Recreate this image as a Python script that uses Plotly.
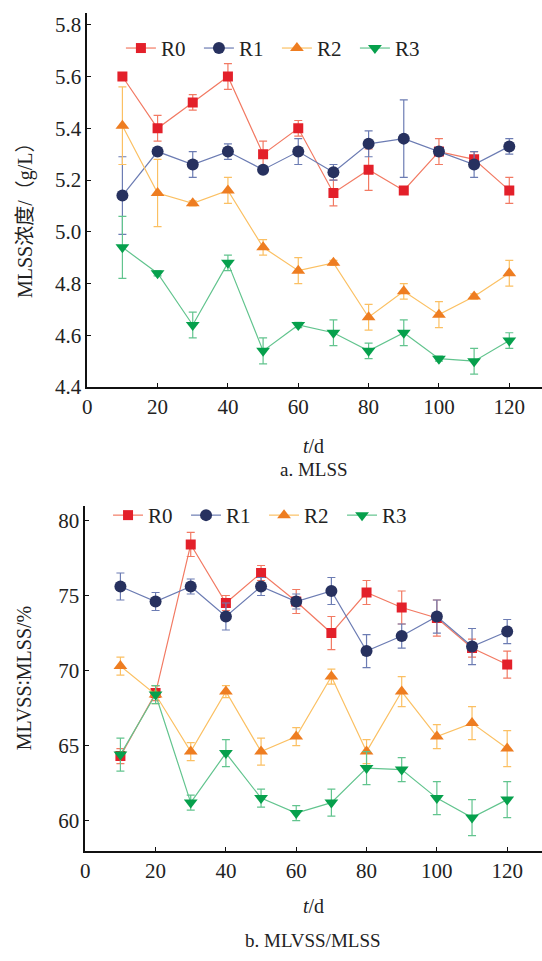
import plotly.graph_objects as go

days = [10, 20, 30, 40, 50, 60, 70, 80, 90, 100, 110, 120]
series = ["R0", "R1", "R2", "R3"]

# Panel a: MLSS concentration (g/L)
mlss_r0 = [5.60, 5.40, 5.50, 5.60, 5.30, 5.40, 5.15, 5.24, 5.16, 5.31, 5.28, 5.16]
mlss_r0_err = [0.01, 0.05, 0.03, 0.05, 0.05, 0.03, 0.05, 0.08, 0.01, 0.05, 0.03, 0.05]
mlss_r1 = [5.14, 5.31, 5.26, 5.31, 5.24, 5.31, 5.23, 5.34, 5.36, 5.31, 5.26, 5.33]
mlss_r1_err = [0.15, 0.01, 0.05, 0.03, 0.01, 0.05, 0.03, 0.05, 0.15, 0.01, 0.05, 0.03]
mlss_r2 = [5.41, 5.15, 5.11, 5.16, 4.94, 4.85, 4.88, 4.67, 4.77, 4.68, 4.75, 4.84]
mlss_r2_err = [0.15, 0.13, 0.01, 0.05, 0.03, 0.05, 0.01, 0.05, 0.03, 0.05, 0.01, 0.05]
mlss_r3 = [4.94, 4.84, 4.64, 4.88, 4.54, 4.64, 4.61, 4.54, 4.61, 4.51, 4.50, 4.58]
mlss_r3_err = [0.12, 0.01, 0.05, 0.03, 0.05, 0.01, 0.05, 0.03, 0.05, 0.01, 0.05, 0.03]

# Panel b: MLVSS/MLSS (%)
ratio_r0 = [64.3, 68.5, 78.4, 74.5, 76.5, 74.6, 72.5, 75.2, 74.2, 73.5, 71.5, 70.4]
ratio_r0_err = [0.5, 0.5, 0.8, 0.5, 0.5, 0.8, 1.1, 0.8, 1.1, 1.2, 0.6, 0.9]
ratio_r1 = [75.6, 74.6, 75.6, 73.6, 75.6, 74.6, 75.3, 71.3, 72.3, 73.6, 71.6, 72.6]
ratio_r1_err = [0.9, 0.6, 0.5, 0.9, 0.6, 0.5, 0.9, 1.1, 0.8, 1.1, 1.2, 0.8]
ratio_r2 = [70.3, 68.4, 64.6, 68.6, 64.6, 65.6, 69.6, 64.6, 68.6, 65.6, 66.5, 64.8]
ratio_r2_err = [0.6, 0.6, 0.6, 0.4, 0.9, 0.6, 0.5, 0.8, 1.0, 0.8, 1.1, 1.2]
ratio_r3 = [64.4, 68.4, 61.2, 64.5, 61.5, 60.5, 61.2, 63.5, 63.4, 61.5, 60.2, 61.4]
ratio_r3_err = [1.1, 0.6, 0.5, 0.9, 0.6, 0.5, 0.9, 1.1, 0.8, 1.1, 1.2, 1.2]

x_ticks = [0, 20, 40, 60, 80, 100, 120]
ya_ticks = [4.4, 4.6, 4.8, 5.0, 5.2, 5.4, 5.6, 5.8]
yb_ticks = [60, 65, 70, 75, 80]

marker_colors = ["#e3202a", "#27315f", "#ee7d21", "#06a04c"]
line_colors = ["#f27a63", "#6c7cb3", "#fbc063", "#62c48e"]
symbols = ["square", "circle", "triangle-up", "triangle-down"]
msizes = [10, 12, 12, 12]

FONT = "Liberation Serif, DejaVu Sans, Noto Sans CJK SC"
W, H = 542, 961

fig = go.Figure()

top_vals = [mlss_r0, mlss_r1, mlss_r2, mlss_r3]
top_errs = [mlss_r0_err, mlss_r1_err, mlss_r2_err, mlss_r3_err]
bot_vals = [ratio_r0, ratio_r1, ratio_r2, ratio_r3]
bot_errs = [ratio_r0_err, ratio_r1_err, ratio_r2_err, ratio_r3_err]

for i, name in enumerate(series):
    fig.add_trace(go.Scatter(
        x=days, y=top_vals[i], name=name, mode="lines+markers",
        line=dict(color=line_colors[i], width=1.2),
        marker=dict(symbol=symbols[i], size=msizes[i], color=marker_colors[i], line=dict(width=0)),
        error_y=dict(type="data", array=top_errs[i], visible=True, color=line_colors[i], thickness=1.2, width=4),
        xaxis="x", yaxis="y", legend="legend",
    ))
for i, name in enumerate(series):
    fig.add_trace(go.Scatter(
        x=days, y=bot_vals[i], name=name, mode="lines+markers",
        line=dict(color=line_colors[i], width=1.2),
        marker=dict(symbol=symbols[i], size=msizes[i], color=marker_colors[i], line=dict(width=0)),
        error_y=dict(type="data", array=bot_errs[i], visible=True, color=line_colors[i], thickness=1.2, width=4),
        xaxis="x2", yaxis="y2", legend="legend2",
    ))

axis_common = dict(
    showline=True, linecolor="#111", linewidth=1.5, mirror=False,
    ticks="inside", ticklen=4, tickwidth=1.2, tickcolor="#111",
    showgrid=False, zeroline=False,
    tickfont=dict(family=FONT, size=21, color="#222"),
)

def py(px):
    return 1 - px / H

legend_font = dict(family=FONT, size=21, color="#222")

fig.update_layout(
    width=W, height=H,
    margin=dict(l=0, r=0, t=0, b=0),
    paper_bgcolor="white", plot_bgcolor="white",
    font=dict(family=FONT, size=20, color="#222"),
    xaxis=dict(domain=[83 / W, 1.0], range=[0, 129.3], tickvals=x_ticks, anchor="y", **axis_common),
    yaxis=dict(domain=[py(392), py(13)], range=[4.4, 5.846], tickvals=ya_ticks,
               tickformat=".1f", anchor="x", **axis_common),
    xaxis2=dict(domain=[81 / W, 1.0], range=[0, 129.9], tickvals=x_ticks, anchor="y2", **axis_common),
    yaxis2=dict(domain=[py(862), py(512)], range=[57.96, 80.99], tickvals=yb_ticks, anchor="x2", **axis_common),
    legend=dict(orientation="h", x=117 / W, y=py(49), xanchor="left", yanchor="middle",
                font=legend_font, bgcolor="rgba(0,0,0,0)",
                itemwidth=30, tracegroupgap=0, entrywidth=33, entrywidthmode="pixels"),
    legend2=dict(orientation="h", x=104 / W, y=py(522), xanchor="left", yanchor="middle",
                 font=legend_font, bgcolor="rgba(0,0,0,0)",
                 itemwidth=30, tracegroupgap=0, entrywidth=33, entrywidthmode="pixels"),
    showlegend=True,
)

annos = [
    dict(text="MLSS浓度/（g/L）", x=20 / W, y=py(218), textangle=-90, size=20),
    dict(text="MLVSS∶MLSS/%", x=20 / W, y=py(686), textangle=-90, size=20),
    dict(text="<i>t</i>/d", x=311 / W, y=py(452), textangle=0, size=20),
    dict(text="a. MLSS", x=312 / W, y=py(475), textangle=0, size=19),
    dict(text="<i>t</i>/d", x=311 / W, y=py(917), textangle=0, size=20),
    dict(text="b. MLVSS/MLSS", x=311 / W, y=py(952), textangle=0, size=19),
]
for a in annos:
    fig.add_annotation(text=a["text"], x=a["x"], y=a["y"], xref="paper", yref="paper",
                       xanchor="center", yanchor="middle", textangle=a["textangle"],
                       showarrow=False, font=dict(family=FONT, size=a["size"], color="#222"))

fig.write_html("out.html")
